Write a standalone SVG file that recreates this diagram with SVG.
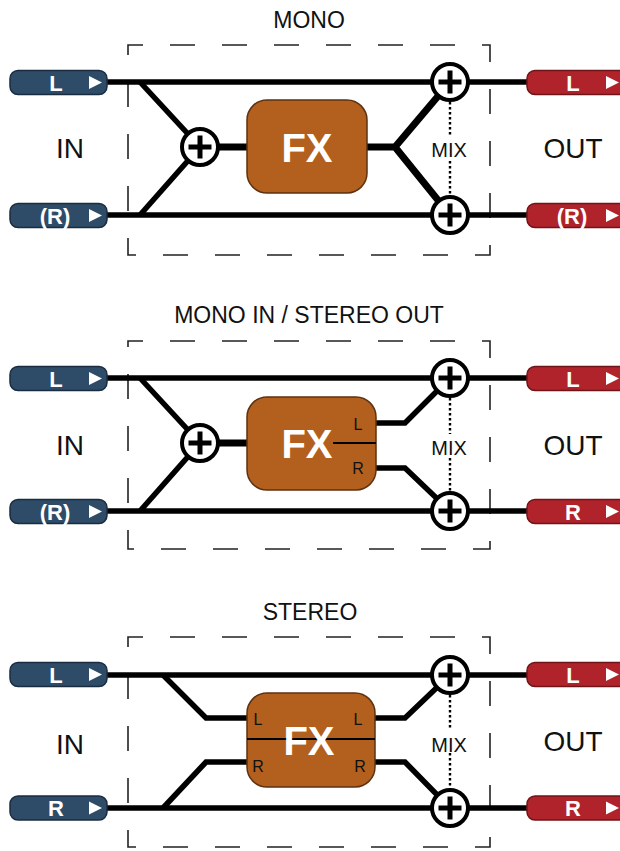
<svg xmlns="http://www.w3.org/2000/svg" width="620" height="851" viewBox="0 0 620 851">
<defs>
<style>
.wire{stroke:#000;stroke-width:5.5;fill:none;stroke-linejoin:miter;stroke-linecap:butt}
.thick{stroke-width:7}
.thin{stroke:#000;stroke-width:2;fill:none}
.dot{stroke:#000;stroke-width:2.4;stroke-dasharray:2.4 2.6;fill:none}
.frame{fill:none;stroke:#222;stroke-width:1.6;stroke-dasharray:25 27;stroke-dashoffset:10}
.sc{fill:#fff;stroke:#000;stroke-width:4}
.sp{stroke:#000;stroke-width:5;fill:none}
.pin{fill:#2e4b68;stroke:#1a2d40;stroke-width:1.5}
.pout{fill:#b0232b;stroke:#6f1418;stroke-width:1.5}
.tri{fill:#fff}
.ptxt{font-family:"Liberation Sans",Arial,sans-serif;font-weight:bold;font-size:22px;fill:#fff;text-anchor:middle}
.fx{fill:#b35f1e;stroke:#5e3210;stroke-width:1.5}
.fxt{font-family:"Liberation Sans",Arial,sans-serif;font-weight:bold;font-size:40px;fill:#fff;text-anchor:middle}
.big{font-family:"Liberation Sans",Arial,sans-serif;font-size:28px;fill:#111;text-anchor:middle}
.title{font-family:"Liberation Sans",Arial,sans-serif;font-size:23px;fill:#111;text-anchor:middle}
.mix{font-family:"Liberation Sans",Arial,sans-serif;font-size:20px;fill:#111;text-anchor:middle}
.port{font-family:"Liberation Sans",Arial,sans-serif;font-size:16px;fill:#111;text-anchor:middle}
</style>
<g id="plus"><circle class="sc" cx="0" cy="0" r="18"/><path class="sp" d="M-11.5 0H11.5M0 -11.5V11.5"/></g>
<path id="triR" d="M0 -6.5L13 0L0 6.5Z"/>
</defs>

<!-- ================= SECTION 1: MONO ================= -->
<g id="sec-mono">
  <text id="title-mono" class="title" x="309" y="28">MONO</text>
  <rect id="frame-mono" class="frame" x="128" y="45" width="362" height="210"/>
  <g id="connectors-mono">
    <path class="wire" d="M107 82H527"/>
    <path class="wire" d="M107 215H527"/>
    <path class="wire" d="M140 82L200 147L140 215"/>
    <path class="wire thick" d="M200 147H250"/>
    <path class="wire thick" d="M365 147H395L450 82M395 147L450 215"/>
    <path class="dot" d="M450 102V137M450 161V196"/>
  </g>
  <g id="in-L-mono"><rect class="pin" x="10" y="70.5" width="97" height="24" rx="8"/><text class="ptxt" x="56" y="90.5">L</text><use href="#triR" class="tri" x="89" y="82.5"/></g>
  <g id="in-R-mono"><rect class="pin" x="10" y="203.5" width="97" height="24" rx="8"/><text class="ptxt" x="55" y="223.5">(R)</text><use href="#triR" class="tri" x="89" y="215.5"/></g>
  <g id="out-L-mono"><rect class="pout" x="527" y="70.5" width="100" height="24" rx="8"/><text class="ptxt" x="573" y="90.5">L</text><use href="#triR" class="tri" x="606" y="82.5"/></g>
  <g id="out-R-mono"><rect class="pout" x="527" y="203.5" width="100" height="24" rx="8"/><text class="ptxt" x="572" y="223.5">(R)</text><use href="#triR" class="tri" x="606" y="215.5"/></g>
  <g id="sum-in-mono"><use href="#plus" x="200" y="147"/></g>
  <g id="sum-L-mono"><use href="#plus" x="450" y="82"/></g>
  <g id="sum-R-mono"><use href="#plus" x="450" y="215"/></g>
  <g id="fx-mono"><rect class="fx" x="247" y="100" width="120" height="93" rx="20"/><text class="fxt" x="307" y="162">FX</text></g>
  <text class="big" x="70" y="158">IN</text>
  <text class="big" x="573" y="158">OUT</text>
  <text class="mix" x="449" y="157">MIX</text>
</g>

<!-- ================= SECTION 2: MONO IN / STEREO OUT ================= -->
<g id="sec-mono-stereo" transform="translate(0,296)">
  <text id="title-mono-stereo" class="title" x="309" y="27">MONO IN / STEREO OUT</text>
  <rect id="frame-mono-stereo" class="frame" x="128" y="45" width="362" height="208"/>
  <g id="connectors-mono-stereo">
    <path class="wire" d="M107 82H527"/>
    <path class="wire" d="M107 215H527"/>
    <path class="wire" d="M140 82L200 147L140 215"/>
    <path class="wire thick" d="M200 147H250"/>
    <path class="wire" d="M374 127H405L450 82"/>
    <path class="wire" d="M374 172H405L450 215"/>
    <path class="dot" d="M450 102V138M450 162V196"/>
  </g>
  <g id="in-L-ms"><rect class="pin" x="10" y="70.5" width="97" height="24" rx="8"/><text class="ptxt" x="56" y="90.5">L</text><use href="#triR" class="tri" x="89" y="82.5"/></g>
  <g id="in-R-ms"><rect class="pin" x="10" y="203.5" width="97" height="24" rx="8"/><text class="ptxt" x="55" y="223.5">(R)</text><use href="#triR" class="tri" x="89" y="215.5"/></g>
  <g id="out-L-ms"><rect class="pout" x="527" y="70.5" width="100" height="24" rx="8"/><text class="ptxt" x="573" y="90.5">L</text><use href="#triR" class="tri" x="606" y="82.5"/></g>
  <g id="out-R-ms"><rect class="pout" x="527" y="203.5" width="100" height="24" rx="8"/><text class="ptxt" x="573" y="223.5">R</text><use href="#triR" class="tri" x="606" y="215.5"/></g>
  <g id="sum-in-ms"><use href="#plus" x="200" y="147"/></g>
  <g id="sum-L-ms"><use href="#plus" x="450" y="82"/></g>
  <g id="sum-R-ms"><use href="#plus" x="450" y="215"/></g>
  <g id="fx-ms">
    <rect class="fx" x="247" y="101" width="129" height="93" rx="20"/>
    <text class="fxt" x="307" y="162">FX</text>
    <path class="thin" d="M333 147H376"/>
    <text class="port" x="358" y="134">L</text>
    <text class="port" x="358" y="178">R</text>
  </g>
  <text class="big" x="70" y="159">IN</text>
  <text class="big" x="573" y="159">OUT</text>
  <text class="mix" x="449" y="159">MIX</text>
</g>

<!-- ================= SECTION 3: STEREO ================= -->
<g id="sec-stereo" transform="translate(0,593)">
  <text id="title-stereo" class="title" x="310" y="27">STEREO</text>
  <rect id="frame-stereo" class="frame" x="128" y="44" width="362" height="210"/>
  <g id="connectors-stereo">
    <path class="wire" d="M107 82H527"/>
    <path class="wire" d="M107 215H527"/>
    <path class="wire" d="M163 82L206 125H250"/>
    <path class="wire" d="M163 215L206 169H250"/>
    <path class="wire" d="M372 125H405L450 82"/>
    <path class="wire" d="M372 169H405L450 215"/>
    <path class="dot" d="M450 102V136M450 160V196"/>
  </g>
  <g id="in-L-st"><rect class="pin" x="10" y="69.5" width="97" height="24" rx="8"/><text class="ptxt" x="56" y="89.5">L</text><use href="#triR" class="tri" x="89" y="81.5"/></g>
  <g id="in-R-st"><rect class="pin" x="10" y="203" width="97" height="24" rx="8"/><text class="ptxt" x="56" y="223">R</text><use href="#triR" class="tri" x="89" y="215"/></g>
  <g id="out-L-st"><rect class="pout" x="527" y="69.5" width="100" height="24" rx="8"/><text class="ptxt" x="573" y="89.5">L</text><use href="#triR" class="tri" x="606" y="81.5"/></g>
  <g id="out-R-st"><rect class="pout" x="527" y="203" width="100" height="24" rx="8"/><text class="ptxt" x="573" y="223">R</text><use href="#triR" class="tri" x="606" y="215"/></g>
  <g id="sum-L-st"><use href="#plus" x="450" y="82"/></g>
  <g id="sum-R-st"><use href="#plus" x="450" y="215"/></g>
  <g id="fx-st">
    <rect class="fx" x="247" y="100" width="128" height="94" rx="20"/>
    <path class="thin" d="M247 146H375"/>
    <text class="fxt" x="309" y="162">FX</text>
    <text class="port" x="258" y="132">L</text>
    <text class="port" x="258" y="179">R</text>
    <text class="port" x="358" y="132">L</text>
    <text class="port" x="360" y="179">R</text>
  </g>
  <text class="big" x="70" y="161">IN</text>
  <text class="big" x="573" y="158">OUT</text>
  <text class="mix" x="449" y="159">MIX</text>
</g>
</svg>
